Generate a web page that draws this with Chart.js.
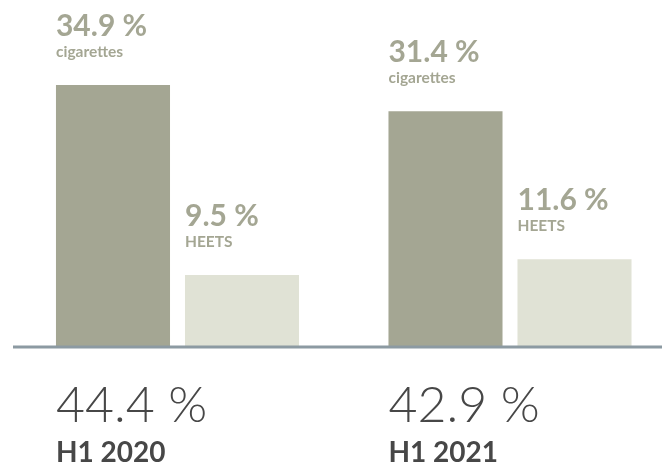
<!DOCTYPE html>
<html>
<head>
<meta charset="utf-8">
<script src="https://cdn.jsdelivr.net/npm/chart.js@4"></script>
<style>
  html, body { margin: 0; padding: 0; background: #fff; }
  #wrap { width: 662px; height: 465px; position: relative; }
</style>
</head>
<body>
<div id="wrap"><canvas id="shares"></canvas></div>
<script>
const periods = ['H1 2020', 'H1 2021'];
const cigarettes = [34.9, 31.4];
const heets = [9.5, 11.6];
const totals = [44.4, 42.9];
const seriesNames = ['cigarettes', 'HEETS'];

const darkColor = '#a4a693';
const lightColor = '#e0e2d5';
const textColor = '#474747';
const fontFamily = 'Lato, "Open Sans", sans-serif';

const sharesCanvas = document.getElementById('shares');

// labels above bars, totals under the axis, and the base line
const labelPlugin = {
    id: 'labelPlugin',
    afterDatasetsDraw(chart) {
        const ctx = chart.ctx;
        const area = chart.chartArea;
        ctx.save();
        ctx.textAlign = 'left';
        ctx.textBaseline = 'alphabetic';

        chart.data.datasets.forEach((ds, di) => {
            const meta = chart.getDatasetMeta(di);
            meta.data.forEach((bar, i) => {
                const left = bar.x - bar.width / 2;
                ctx.fillStyle = darkColor;
                ctx.font = 'bold 30px ' + fontFamily;
                ctx.fillText(ds.data[i].toFixed(1) + ' %', left, bar.y - 49);
                ctx.font = 'bold 15.5px ' + fontFamily;
                ctx.fillText(seriesNames[di], left, bar.y - 28);
            });
        });

        // base line
        ctx.strokeStyle = '#8c9aa2';
        ctx.lineWidth = 3;
        ctx.beginPath();
        ctx.moveTo(13, area.bottom + 1);
        ctx.lineTo(chart.width, area.bottom + 1);
        ctx.stroke();

        // totals + period names
        const first = chart.getDatasetMeta(0);
        first.data.forEach((bar, i) => {
            const left = bar.x - bar.width / 2;
            ctx.fillStyle = textColor;
            ctx.font = '300 50px ' + fontFamily;
            ctx.fillText(totals[i].toFixed(1) + ' %', left, 422);
            ctx.font = 'bold 28px ' + fontFamily;
            ctx.fillText(periods[i], left, 462);
        });
        ctx.restore();
    }
};

new Chart(sharesCanvas, {
    type: 'bar',
    data: {
        labels: periods,
        datasets: [{
            label: seriesNames[0],
            data: cigarettes,
            backgroundColor: darkColor,
            borderWidth: 0,
            clip: false
        }, {
            label: seriesNames[1],
            data: heets,
            backgroundColor: lightColor,
            borderWidth: 0,
            clip: false
        }]
    },
    options: {
        responsive: true,
        maintainAspectRatio: false,
        animation: false,
        categoryPercentage: 0.776,
        barPercentage: 0.884,
        layout: {
            padding: { left: 177.5, right: 152, top: 47, bottom: 119 }
        },
        plugins: {
            legend: { display: false },
            tooltip: { enabled: false }
        },
        scales: {
            x: {
                display: false,
                offset: false
            },
            y: {
                display: false,
                min: 0,
                max: 40
            }
        }
    },
    plugins: [labelPlugin]
});
</script>
</body>
</html>
